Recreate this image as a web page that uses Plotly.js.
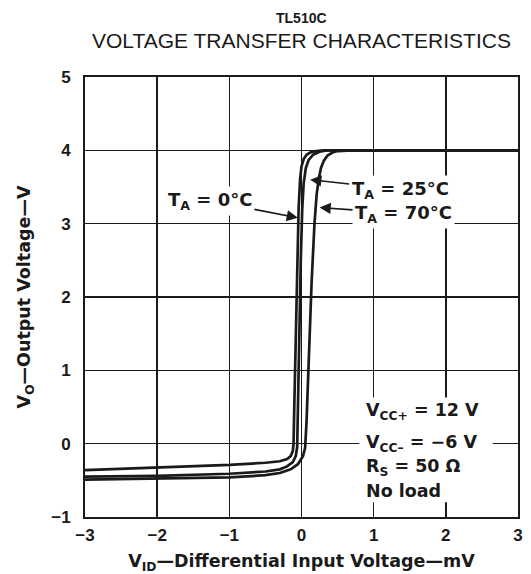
<!DOCTYPE html>
<html>
<head>
<meta charset="utf-8">
<script src="https://cdn.plot.ly/plotly-3.0.1.min.js"></script>
<style>html,body{margin:0;padding:0;background:#fff;}#chart{width:531px;height:574px;}</style>
</head>
<body>
<div id="chart"></div>
<script>
// Series (V_ID in mV, V_O in V)
const t0_x = [-3, -2, -1, -0.5, -0.3, -0.2, -0.15, -0.12, -0.11, -0.1, -0.08, -0.06, -0.04, -0.02, 0, 0.03, 0.07, 0.12, 0.2, 0.3, 0.5, 1, 2, 3];
const t0_y = [-0.36, -0.33, -0.29, -0.26, -0.24, -0.21, -0.17, -0.1, 0, 0.5, 1.5, 2.5, 3.2, 3.6, 3.78, 3.88, 3.94, 3.97, 3.99, 4.0, 4.0, 4.01, 4.0, 4.0];
const t25_x = [-3, -2, -1, -0.5, -0.3, -0.2, -0.12, -0.08, -0.06, -0.05, -0.03, -0.01, 0.01, 0.03, 0.06, 0.1, 0.16, 0.25, 0.35, 0.5, 1, 2, 3];
const t25_y = [-0.45, -0.44, -0.41, -0.38, -0.35, -0.31, -0.25, -0.17, -0.05, 0.5, 1.5, 2.5, 3.2, 3.55, 3.76, 3.87, 3.94, 3.98, 4.0, 4.0, 4.0, 4.0, 4.0];
const t70_x = [-3, -2, -1, -0.5, -0.3, -0.15, -0.05, 0.02, 0.05, 0.07, 0.1, 0.14, 0.18, 0.21, 0.24, 0.27, 0.31, 0.36, 0.43, 0.5, 0.7, 1, 2, 3];
const t70_y = [-0.49, -0.48, -0.46, -0.43, -0.4, -0.35, -0.28, -0.17, -0.06, 0.3, 1.2, 2.2, 3.0, 3.4, 3.62, 3.76, 3.86, 3.93, 3.97, 3.99, 4.0, 4.0, 4.0, 4.0];

const xTickVals = [-3, -2, -1, 0, 1, 2, 3];
const yTickVals = [-1, 0, 1, 2, 3, 4, 5];

const titleLine1 = 'TL510C';
const titleLine2 = 'VOLTAGE TRANSFER CHARACTERISTICS';
const xTitle = 'V<sub>ID</sub>\u2014Differential Input Voltage\u2014mV';
const yTitle = 'V<sub>O</sub>\u2014Output Voltage\u2014V';
const curveLabels = ['T<sub>A</sub> = 0\u00B0C', 'T<sub>A</sub> = 25\u00B0C', 'T<sub>A</sub> = 70\u00B0C'];
const noteLines = ['V<sub>CC+</sub> = 12 V', 'V<sub>CC\u2013</sub> = \u22126 V', 'R<sub>S</sub> = 50 \u03A9', 'No load'];

const FONT = 'Liberation Sans, Arial, Helvetica, sans-serif';
const WIDE = '"DejaVu Sans", "Liberation Sans", sans-serif';
const INK = '#1a1a1a';

const line = {color: INK, width: 2.7};
const traces = [
  {x: t0_x, y: t0_y, mode: 'lines', line: line, name: '0', hoverinfo: 'skip'},
  {x: t25_x, y: t25_y, mode: 'lines', line: line, name: '25', hoverinfo: 'skip'},
  {x: t70_x, y: t70_y, mode: 'lines', line: line, name: '70', hoverinfo: 'skip'}
];

const tickFont = {family: FONT, size: 17, color: INK, weight: 'bold'};
const axTitleFont = {family: WIDE, size: 17.5, color: INK, weight: 'bold'};

const layout = {
  width: 531, height: 574,
  margin: {l: 85, r: 13, t: 77, b: 57},
  paper_bgcolor: '#fff', plot_bgcolor: '#fff',
  showlegend: false,
  xaxis: {
    range: [-3, 3], tickvals: xTickVals, ticktext: xTickVals.map(v => v < 0 ? '\u2212' + Math.abs(v) : String(v)),
    showgrid: true, gridcolor: INK, gridwidth: 1.4, zeroline: false,
    showline: true, linecolor: INK, linewidth: 2, mirror: true,
    ticks: '', tickfont: tickFont, ticklabelstandoff: 2,
    title: {text: xTitle, font: axTitleFont, standoff: 13}
  },
  yaxis: {
    range: [-1, 5], tickvals: yTickVals, ticktext: yTickVals.map(v => v < 0 ? '\u2212' + Math.abs(v) : String(v)),
    showgrid: true, gridcolor: INK, gridwidth: 1.4, zeroline: false,
    showline: true, linecolor: INK, linewidth: 2, mirror: true,
    ticks: '', tickfont: tickFont, ticklabelstandoff: 9,
    title: {text: yTitle, font: axTitleFont, standoff: 16}
  },
  shapes: [
    {type: 'rect', xref: 'x', yref: 'y', x0: 0.8, x1: 2.65, y0: -0.8, y1: 0.63,
     fillcolor: '#fff', line: {width: 0}, layer: 'above'}
  ],
  annotations: [
    {xref: 'paper', yref: 'paper', x: 0.5, y: 1, yshift: 59, xanchor: 'center', yanchor: 'middle',
     text: titleLine1, showarrow: false, font: {family: FONT, size: 14, color: INK, weight: 'bold'}},
    {xref: 'paper', yref: 'paper', x: 0.5, y: 1, yshift: 37, xanchor: 'center', yanchor: 'middle',
     text: titleLine2, showarrow: false, font: {family: FONT, size: 21, color: INK}},
    {x: -0.05, y: 3.08, ax: -88, ay: -17, text: curveLabels[0], showarrow: true,
     arrowhead: 2, arrowsize: 1.4, arrowwidth: 1.6, arrowcolor: INK, standoff: 0,
     bgcolor: '#fff', borderpad: 2, font: {family: WIDE, size: 18, color: INK, weight: 'bold'}},
    {x: 0.12, y: 3.6, ax: 90, ay: 10, text: curveLabels[1], showarrow: true,
     arrowhead: 2, arrowsize: 1.4, arrowwidth: 1.6, arrowcolor: INK, standoff: 0,
     bgcolor: '#fff', borderpad: 2, font: {family: WIDE, size: 18, color: INK, weight: 'bold'}},
    {x: 0.25, y: 3.22, ax: 84, ay: 6, text: curveLabels[2], showarrow: true,
     arrowhead: 2, arrowsize: 1.4, arrowwidth: 1.6, arrowcolor: INK, standoff: 0,
     bgcolor: '#fff', borderpad: 2, font: {family: WIDE, size: 18, color: INK, weight: 'bold'}}
  ]
};

const noteY = [0.44, 0.0, -0.32, -0.65];
noteLines.forEach((t, i) => {
  layout.annotations.push({x: 0.86, y: noteY[i], xanchor: 'left', yanchor: 'middle', text: t,
    showarrow: false, font: {family: WIDE, size: 17.5, color: INK, weight: 'bold'}});
});

Plotly.newPlot('chart', traces, layout, {displayModeBar: false, staticPlot: true});
</script>
</body>
</html>
